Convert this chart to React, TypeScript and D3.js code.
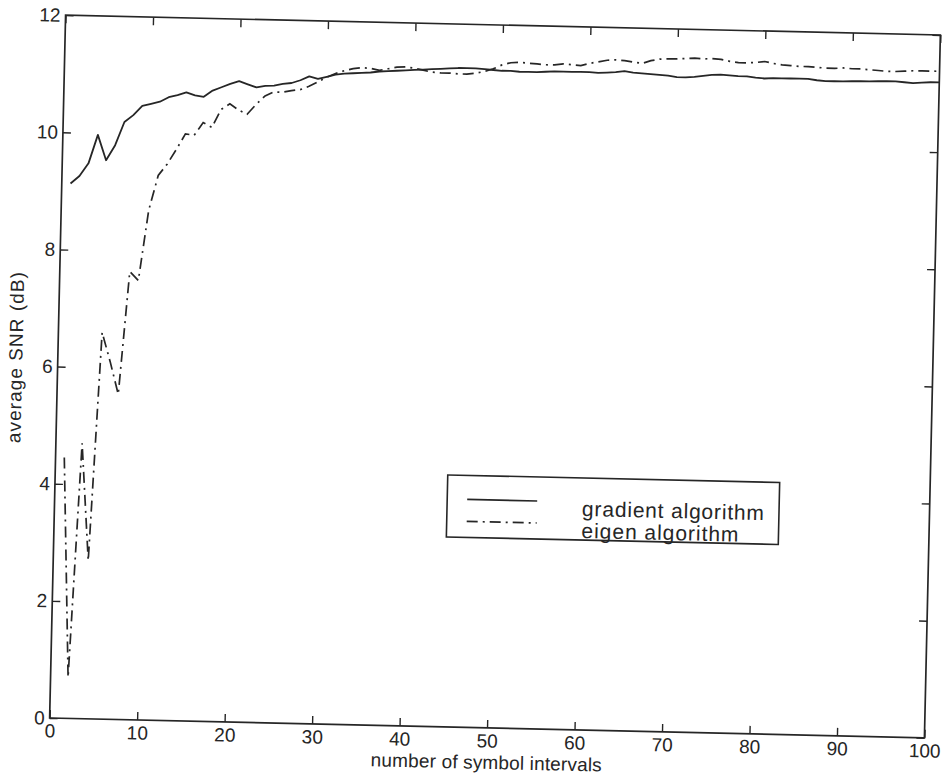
import React, { useEffect, useRef } from "react";
import * as d3 from "d3";

// average SNR (dB) at symbol intervals 1..100
const gradientSNR = [
  9.13, 9.26, 9.48, 9.97, 9.54, 9.8, 10.2, 10.32, 10.48, 10.52,
  10.56, 10.64, 10.68, 10.73, 10.68, 10.66, 10.77, 10.83, 10.89, 10.94,
  10.89, 10.84, 10.87, 10.88, 10.91, 10.93, 10.98, 11.05, 11.01, 11.05,
  11.09, 11.11, 11.12, 11.13, 11.14, 11.16, 11.17, 11.18, 11.19, 11.2,
  11.21, 11.22, 11.23, 11.24, 11.25, 11.25, 11.25, 11.24, 11.23, 11.22,
  11.22, 11.21, 11.21, 11.21, 11.22, 11.23, 11.23, 11.23, 11.23, 11.23,
  11.22, 11.23, 11.24, 11.26, 11.24, 11.23, 11.22, 11.21, 11.2, 11.18,
  11.18, 11.19, 11.21, 11.23, 11.24, 11.23, 11.22, 11.22, 11.2, 11.19,
  11.2, 11.2, 11.2, 11.2, 11.2, 11.18, 11.17, 11.17, 11.17, 11.18,
  11.18, 11.18, 11.19, 11.19, 11.19, 11.18, 11.17, 11.18, 11.19, 11.19,
];

const eigenSNR = [
  4.45, 0.7, 4.7, 2.7, 6.6, 6.1, 5.55, 7.65, 7.5, 8.7,
  9.3, 9.5, 9.75, 10.02, 10.0, 10.22, 10.14, 10.45, 10.55, 10.45,
  10.38, 10.55, 10.7, 10.77, 10.77, 10.8, 10.82, 10.88, 10.96, 11.04,
  11.11, 11.16, 11.2, 11.22, 11.21, 11.18, 11.21, 11.24, 11.25, 11.23,
  11.2, 11.17, 11.16, 11.16, 11.15, 11.15, 11.17, 11.2, 11.25, 11.32,
  11.36, 11.37, 11.36, 11.35, 11.34, 11.34, 11.36, 11.35, 11.34, 11.38,
  11.41, 11.44, 11.45, 11.44, 11.42, 11.4, 11.45, 11.48, 11.49, 11.49,
  11.5, 11.51, 11.5, 11.51, 11.5, 11.47, 11.45, 11.45, 11.46, 11.48,
  11.45, 11.43, 11.42, 11.41, 11.41, 11.4, 11.39, 11.39, 11.4, 11.39,
  11.39, 11.38, 11.37, 11.36, 11.36, 11.37, 11.38, 11.38, 11.38, 11.38,
];

const xTicks = [0, 10, 20, 30, 40, 50, 60, 70, 80, 90, 100];
const yTicks = [0, 2, 4, 6, 8, 10, 12];
const seriesNames = ["gradient algorithm", "eigen algorithm"];

const W = 943;
const H = 780;

const App = () => {
  const svgRef = useRef<SVGSVGElement>(null);

  useEffect(() => {
    const svg = d3.select(svgRef.current);
    svg.selectAll("*").remove();

    const margin = { top: 25, right: 10.5, bottom: 52, left: 57.5 };
    const ink = "#262626";
    const font = "'Liberation Sans', Arial, Helvetica, sans-serif";
    const dashDot = "11,5,2,5";

    const x = d3.scaleLinear().domain([0, 100]).range([margin.left, W - margin.right]);
    const y = d3.scaleLinear().domain([0, 12]).range([H - margin.bottom, margin.top]);

    // the scanned page is tilted slightly clockwise
    const cx = (x(0) + x(100)) / 2;
    const cy = (y(0) + y(12)) / 2;
    const g = svg.append("g").attr("transform", `rotate(1.3, ${cx}, ${cy})`);

    // axes, ticks pointing inwards like matlab
    const styleAxis = (sel, showText) => {
      sel.select(".domain").remove();
      sel.selectAll("line").attr("stroke", ink).attr("stroke-width", 1.4);
      sel.selectAll("text")
        .attr("fill", ink)
        .attr("font-family", font)
        .attr("font-size", 19)
        .style("display", showText ? null : "none");
    };

    g.append("g")
      .attr("transform", `translate(0, ${y(0)})`)
      .call(d3.axisBottom(x).tickValues(xTicks).tickSize(-8).tickSizeOuter(0).tickPadding(6))
      .call(s => styleAxis(s, true));

    g.append("g")
      .attr("transform", `translate(0, ${y(12)})`)
      .call(d3.axisTop(x).tickValues(xTicks).tickSize(-8).tickSizeOuter(0))
      .call(s => styleAxis(s, false));

    g.append("g")
      .attr("transform", `translate(${x(0)}, 0)`)
      .call(d3.axisLeft(y).tickValues(yTicks).tickSize(-8).tickSizeOuter(0).tickPadding(5))
      .call(s => styleAxis(s, true));

    g.append("g")
      .attr("transform", `translate(${x(100)}, 0)`)
      .call(d3.axisRight(y).tickValues(yTicks).tickSize(-8).tickSizeOuter(0))
      .call(s => styleAxis(s, false));

    // plot box
    g.append("rect")
      .attr("x", x(0))
      .attr("y", y(12))
      .attr("width", x(100) - x(0))
      .attr("height", y(0) - y(12))
      .attr("fill", "none")
      .attr("stroke", ink)
      .attr("stroke-width", 1.7);

    // axis labels
    g.append("text")
      .attr("x", (x(0) + x(100)) / 2)
      .attr("y", y(0) + 41)
      .attr("text-anchor", "middle")
      .attr("font-family", font)
      .attr("font-size", 19)
      .attr("fill", ink)
      .attr("textLength", 231)
      .text("number of symbol intervals");

    g.append("text")
      .attr("transform", `translate(22, ${cy - 8}) rotate(-90)`)
      .attr("text-anchor", "middle")
      .attr("font-family", font)
      .attr("font-size", 19)
      .attr("fill", ink)
      .attr("textLength", 171)
      .text("average SNR (dB)");

    // series
    const line = d3.line<number>()
      .x((d, i) => x(i + 1))
      .y(d => y(d));

    g.append("path")
      .datum(eigenSNR)
      .attr("fill", "none")
      .attr("stroke", ink)
      .attr("stroke-width", 1.7)
      .attr("stroke-dasharray", dashDot)
      .attr("d", line);

    g.append("path")
      .datum(gradientSNR)
      .attr("fill", "none")
      .attr("stroke", ink)
      .attr("stroke-width", 1.8)
      .attr("stroke-linejoin", "round")
      .attr("d", line);

    // legend
    const legend = g.append("g");
    legend.append("rect")
      .attr("x", 450)
      .attr("y", 476)
      .attr("width", 332)
      .attr("height", 62)
      .attr("fill", "white")
      .attr("stroke", ink)
      .attr("stroke-width", 1.6);

    const textWidths = [182, 157];
    seriesNames.forEach((name, i) => {
      const ly = 500 + i * 22;
      legend.append("line")
        .attr("x1", 470)
        .attr("x2", 540)
        .attr("y1", ly)
        .attr("y2", ly)
        .attr("stroke", ink)
        .attr("stroke-width", 1.7)
        .attr("stroke-dasharray", i === 0 ? null : dashDot);
      legend.append("text")
        .attr("x", 585)
        .attr("y", ly + 14)
        .attr("font-family", font)
        .attr("font-size", 21)
        .attr("fill", ink)
        .attr("textLength", textWidths[i])
        .text(name);
    });
  }, []);

  return (
    <svg
      ref={svgRef}
      width={W}
      height={H}
      style={{ position: "absolute", left: 0, top: 0, background: "white" }}
    />
  );
};

export default App;
